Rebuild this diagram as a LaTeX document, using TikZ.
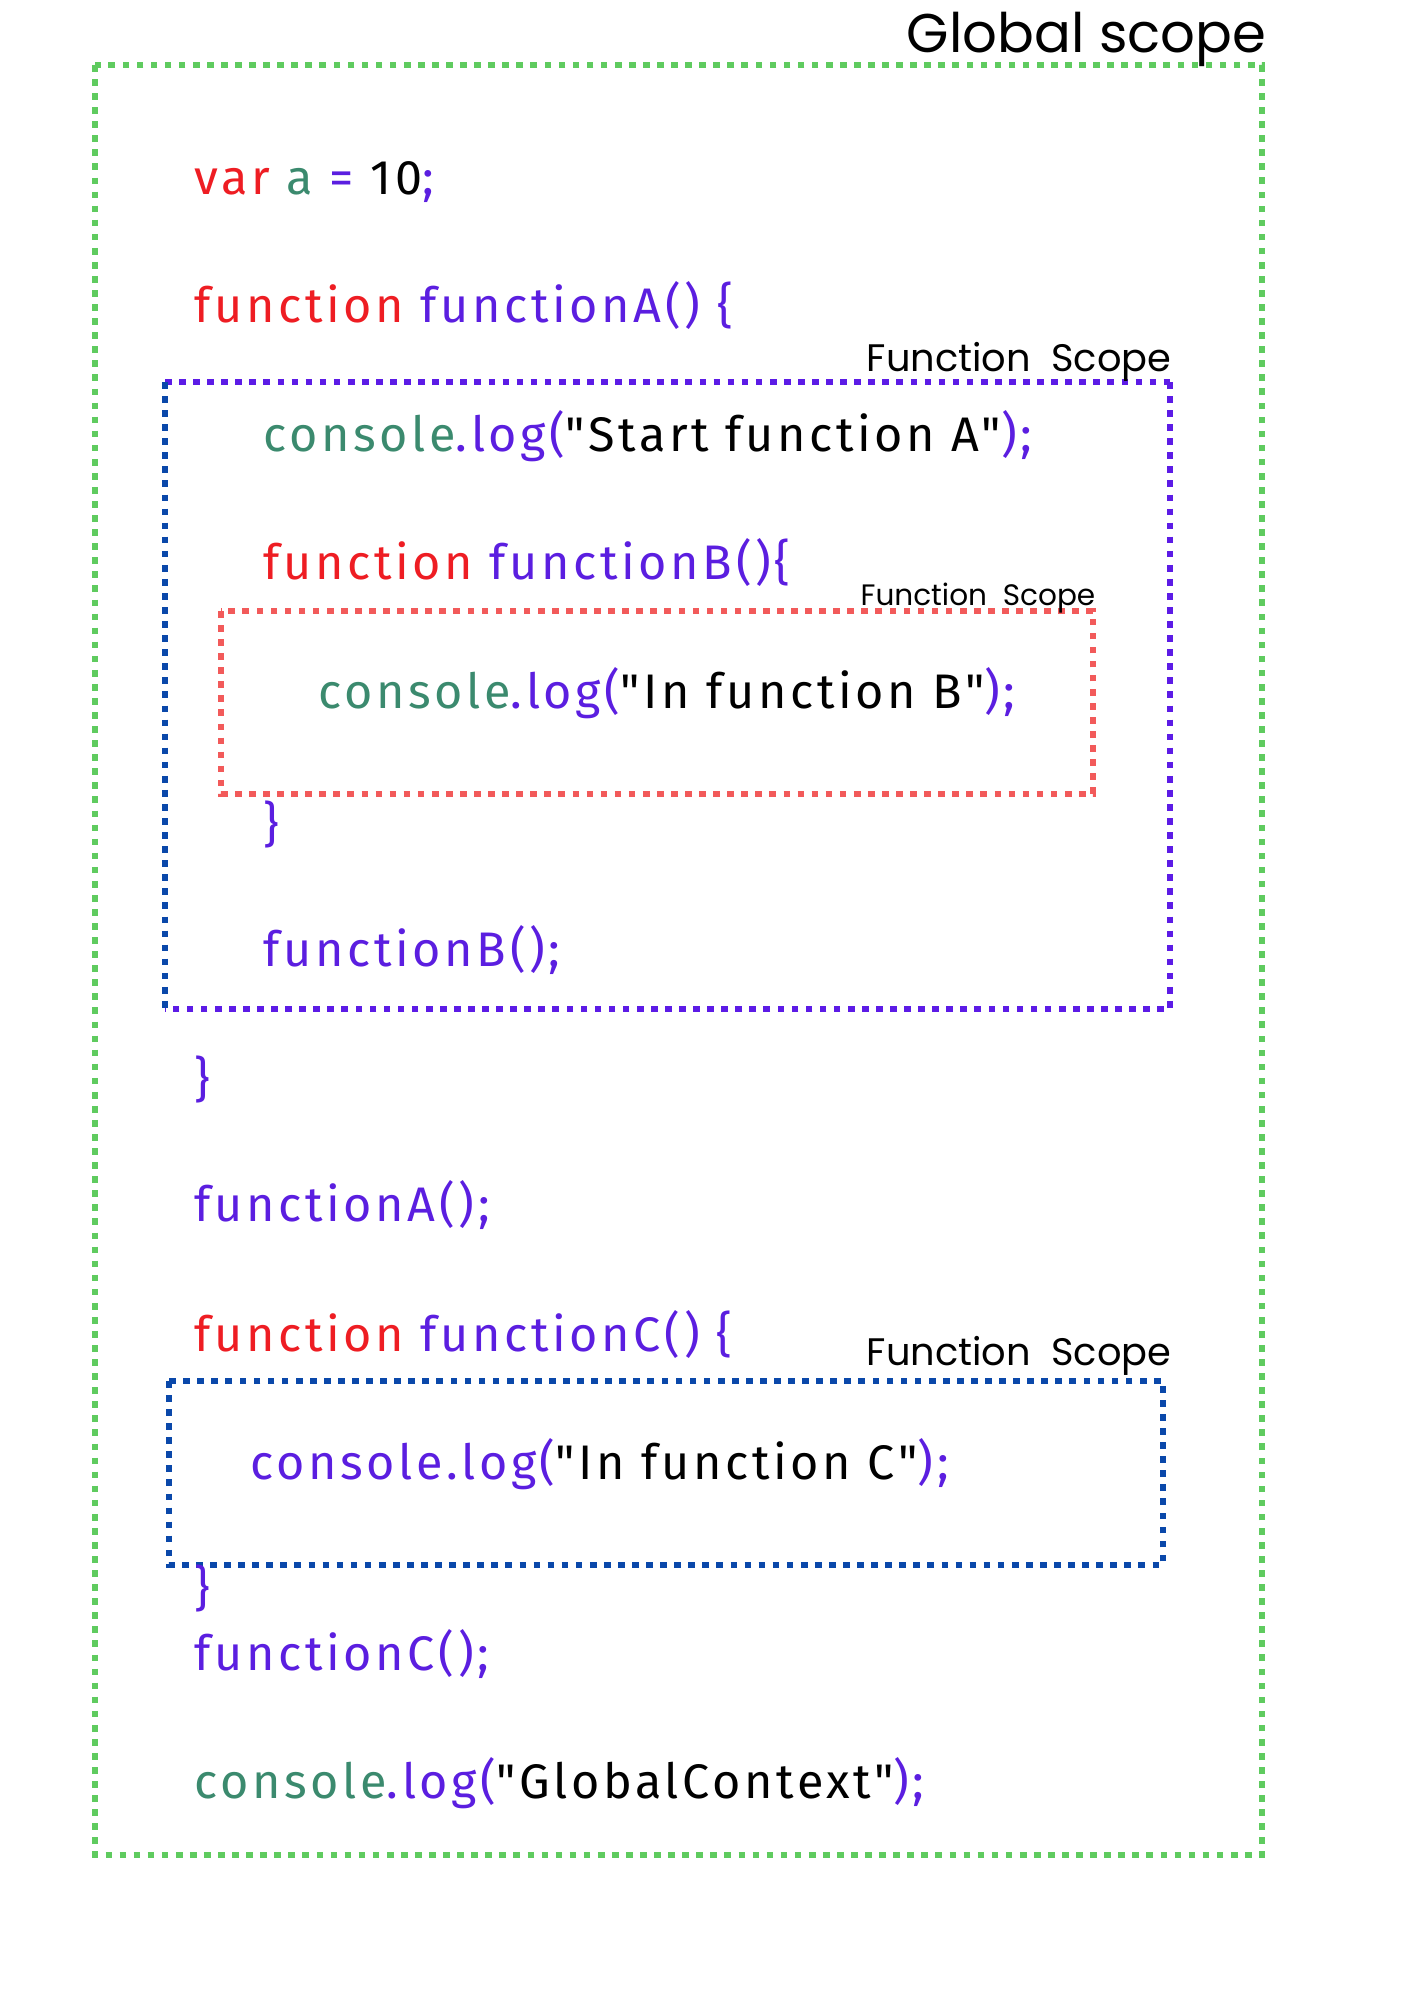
\documentclass[tikz,border=0pt]{standalone}
\usepackage{fontspec}
\newfontfamily\codefont[LetterSpace=7.5]{Fira Sans}
\newfontfamily\handfont{Poppins}

\definecolor{kwred}{HTML}{EE1D23}
\definecolor{idpurple}{HTML}{5B1EE0}
\definecolor{objteal}{HTML}{3B8A6E}
\definecolor{globalgreen}{HTML}{5FCB5F}
\definecolor{scopered}{HTML}{F25A5A}
\definecolor{scopeblue}{HTML}{0A48AA}
\definecolor{scopepurple}{HTML}{5C1BE6}

\tikzset{
  codeline/.style={anchor=base west, inner sep=0pt,
    font=\codefont\fontsize{13.8pt}{16pt}\selectfont},
  scopelabel/.style={anchor=base east, inner sep=0pt, text=black},
  scopebox/.style={line width=1.9pt, dash pattern=on 1.9pt off 2.1pt},
}

\newcommand{\kw}[1]{\textcolor{kwred}{#1}}
\newcommand{\id}[1]{\textcolor{idpurple}{#1}}
\newcommand{\ob}[1]{\textcolor{objteal}{#1}}

\begin{document}
\begin{tikzpicture}[x=0.01cm, y=-0.01cm]
\useasboundingbox (0,0) rectangle (1414,2000);

% scope boxes
\coordinate (gtl) at (95,65);    \coordinate (gbr) at (1262,1855);
\coordinate (atl) at (165,382);  \coordinate (abr) at (1170,1009);
\coordinate (btl) at (221,611);  \coordinate (bbr) at (1093,794);
\coordinate (ctl) at (169,1381); \coordinate (cbr) at (1163,1565);

\draw [scopebox, globalgreen] (gtl) rectangle (gbr);
\draw [scopebox, scopepurple] (atl -| abr) -- (abr) -- (abr -| atl);
\draw [scopebox, scopepurple] (atl) -- (atl -| abr);
\draw [scopebox, scopeblue] (atl) -- (abr -| atl);
\draw [scopebox, scopered] (btl) rectangle (bbr);
\draw [scopebox, scopeblue] (ctl) rectangle (cbr);

% labels
\node [scopelabel, font=\handfont\fontsize{15.5pt}{18pt}\selectfont] (global) at (1267,53) {Global scope};
\node [scopelabel, font=\handfont\fontsize{10.9pt}{13pt}\selectfont] (scopeA) at (1172,371) {Function\ \ Scope};
\node [scopelabel, font=\handfont\fontsize{8.4pt}{10pt}\selectfont] (scopeB) at (1096,605) {Function\ \ Scope};
\node [scopelabel, font=\handfont\fontsize{10.9pt}{13pt}\selectfont] (scopeC) at (1172,1365) {Function\ \ Scope};

% code
\node [codeline] (vara) at (194,195) {\kw{var} \ob{a} \id{=} 10\id{;}};
\node [codeline] (fnA) at (194,322) {\kw{function} \id{functionA() \{}};
\node [codeline] (logA) at (263,451) {\ob{console}\id{.log(}"Start function A"\id{);}};
\node [codeline] (fnB) at (263,579) {\kw{function} \id{functionB()\{}};
\node [codeline] (logB) at (318,708) {\ob{console}\id{.log(}"In function B"\id{);}};
\node [codeline] (endB) at (263,841) {\id{\}}};
\node [codeline] (callB) at (263,966) {\id{functionB();}};
\node [codeline] (endA) at (194,1096) {\id{\}}};
\node [codeline] (callA) at (194,1221) {\id{functionA();}};
\node [codeline] (fnC) at (194,1351) {\kw{function} \id{functionC() \{}};
\node [codeline] (logC) at (250,1479) {\id{console.log(}"In function C"\id{);}};
\node [codeline] (endC) at (194,1605) {\id{\}}};
\node [codeline] (callC) at (194,1670) {\id{functionC();}};
\node [codeline] (logG) at (194,1798) {\ob{console}\id{.log(}"GlobalContext"\id{);}};

\end{tikzpicture}
\end{document}
